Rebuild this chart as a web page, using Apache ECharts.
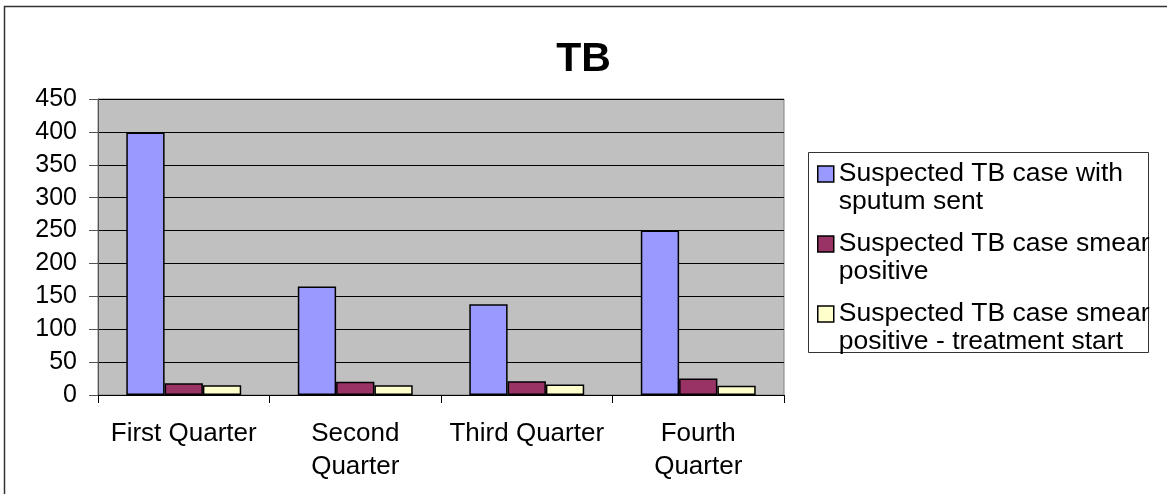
<!DOCTYPE html>
<html>
<head>
<meta charset="utf-8">
<script src="https://cdn.jsdelivr.net/npm/echarts@6/dist/echarts.min.js"></script>
<style>
html,body{margin:0;padding:0;background:#fff;}
#chart{width:1167px;height:494px;}
</style>
</head>
<body>
<div id="chart"></div>
<script>
const categories = ['First Quarter', 'Second Quarter', 'Third Quarter', 'Fourth Quarter'];
const seriesNames = [
  'Suspected TB case with sputum sent',
  'Suspected TB case smear positive',
  'Suspected TB case smear positive - treatment start'
];
const sputumSent = [399, 165, 138, 250];
const smearPositive = [18, 20, 21, 25];
const treatmentStart = [15, 15, 16, 14];
const yMin = 0, yMax = 450, yInterval = 50;

const FONT = 'Liberation Sans, Arial, sans-serif';
const colors = ['#9999FF', '#993366', '#FFFFCC'];
const values = [sputumSent, smearPositive, treatmentStart];

const measureCtx = document.createElement('canvas').getContext('2d');
function wrapText(text, fontSize, maxWidth) {
  measureCtx.font = fontSize + 'px ' + FONT;
  const words = text.split(' ');
  const lines = [];
  let cur = '';
  words.forEach(w => {
    const test = cur ? cur + ' ' + w : w;
    if (cur && measureCtx.measureText(test).width > maxWidth) {
      lines.push(cur);
      cur = w;
    } else {
      cur = test;
    }
  });
  if (cur) lines.push(cur);
  return lines.join('\n');
}

const chart = echarts.init(document.getElementById('chart'), null, {renderer: 'canvas'});
chart.setOption({
  animation: false,
  backgroundColor: '#ffffff',
  title: {
    text: 'TB', left: 'center', top: 34,
    textStyle: {fontFamily: FONT, fontSize: 41, fontWeight: 'bold', color: '#000'}
  },
  graphic: [
    {type: 'rect', shape: {x: 4.5, y: 6.5, width: 1300, height: 700}, style: {fill: 'none', stroke: '#333', lineWidth: 1.5}, z: 0, silent: true},
    {type: 'rect', shape: {x: 808.5, y: 152.5, width: 340, height: 200}, style: {fill: '#fff', stroke: '#333', lineWidth: 1}, z: 0, silent: true}
  ],
  legend: {
    orient: 'vertical', left: 817, top: 132,
    itemWidth: 16, itemHeight: 16, itemGap: -14, padding: 0,
    icon: 'rect',
    itemStyle: {borderColor: '#000', borderWidth: 1.5},
    formatter: name => '\n' + wrapText(name, 26.5, 316),
    textStyle: {fontFamily: FONT, fontSize: 26.5, lineHeight: 28, color: '#000'},
    data: seriesNames
  },
  grid: {
    left: 98, right: 383, top: 99, bottom: 99,
    show: true, backgroundColor: '#C0C0C0', borderColor: '#808080', borderWidth: 1
  },
  xAxis: {
    type: 'category', data: categories,
    axisLine: {show: true, lineStyle: {color: '#000', width: 1}},
    axisTick: {show: true, length: 8, lineStyle: {color: '#000'}},
    axisLabel: {
      fontFamily: FONT, fontSize: 26, lineHeight: 33, color: '#000', margin: 22, interval: 0,
      formatter: v => wrapText(v, 26, 165)
    },
    splitLine: {show: false}
  },
  yAxis: {
    type: 'value', min: yMin, max: yMax, interval: yInterval,
    axisLine: {show: true, lineStyle: {color: '#555', width: 1}},
    axisTick: {show: true, length: 9, lineStyle: {color: '#555'}},
    axisLabel: {fontFamily: FONT, fontSize: 25, color: '#000', margin: 21},
    splitLine: {show: true, lineStyle: {color: '#000', width: 1}}
  },
  series: seriesNames.map((name, i) => ({
    name: name, type: 'bar', data: values[i],
    barGap: '0%', barCategoryGap: '33%',
    itemStyle: {color: colors[i], borderColor: '#000', borderWidth: 1.5},
    z: 3
  }))
});
</script>
</body>
</html>
